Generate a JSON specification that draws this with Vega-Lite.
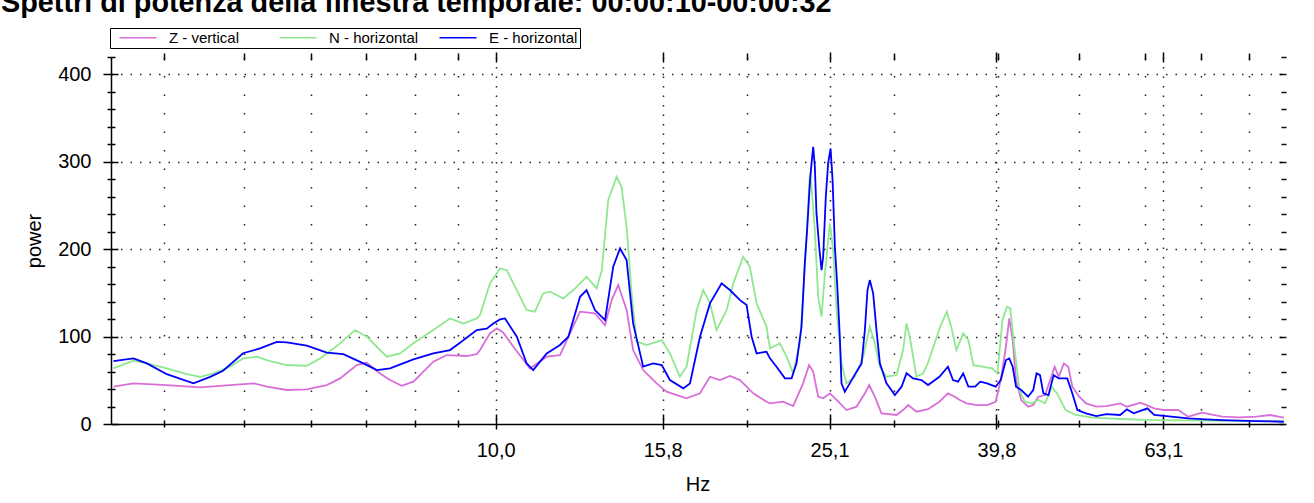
{
"$schema": "https://vega.github.io/schema/vega-lite/v6.json",
"width": 1173, "height": 367,
"autosize": {"type": "none"},
"padding": {"left": 111, "top": 57, "right": 30, "bottom": 79},
"background": "white",
"config": {"font": "Liberation Sans", "view": {"stroke": null}},
"title": {"text": "Spettri di potenza della finestra temporale: 00:00:10-00:00:32", "fontSize": 28.8, "fontWeight": "bold", "font": "Liberation Sans", "color": "#000", "anchor": "start", "frame": "group", "dx": -110, "dy": 27, "baseline": "alphabetic", "offset": 14},
"data": {"values": [
{"s":"Z - vertical","f":3.484,"p":42.7},{"s":"Z - vertical","f":3.681,"p":46.5},{"s":"Z - vertical","f":4.036,"p":44.6},{"s":"Z - vertical","f":4.425,"p":42},{"s":"Z - vertical","f":4.806,"p":44.6},{"s":"Z - vertical","f":5.13,"p":46.5},{"s":"Z - vertical","f":5.32,"p":42.7},{"s":"Z - vertical","f":5.62,"p":38.9},{"s":"Z - vertical","f":5.938,"p":39.6},{"s":"Z - vertical","f":6.275,"p":44.6},{"s":"Z - vertical","f":6.509,"p":52.2},{"s":"Z - vertical","f":6.816,"p":67.5},{"s":"Z - vertical","f":7.007,"p":70.1},{"s":"Z - vertical","f":7.268,"p":57.9},{"s":"Z - vertical","f":7.472,"p":50.3},{"s":"Z - vertical","f":7.717,"p":43.8},{"s":"Z - vertical","f":7.968,"p":48.4},{"s":"Z - vertical","f":8.419,"p":71.3},{"s":"Z - vertical","f":8.736,"p":78.9},{"s":"Z - vertical","f":9.231,"p":77.8},{"s":"Z - vertical","f":9.49,"p":80},{"s":"Z - vertical","f":9.576,"p":84.6},{"s":"Z - vertical","f":9.844,"p":103.7},{"s":"Z - vertical","f":10.03,"p":109.4},{"s":"Z - vertical","f":10.2,"p":105},{"s":"Z - vertical","f":10.5,"p":88.4},{"s":"Z - vertical","f":10.99,"p":63.6},{"s":"Z - vertical","f":11.51,"p":77},{"s":"Z - vertical","f":11.94,"p":78.9},{"s":"Z - vertical","f":12.62,"p":128.5},{"s":"Z - vertical","f":13.15,"p":126.6},{"s":"Z - vertical","f":13.52,"p":113.2},{"s":"Z - vertical","f":13.77,"p":141.8},{"s":"Z - vertical","f":14.02,"p":159},{"s":"Z - vertical","f":14.35,"p":130.4},{"s":"Z - vertical","f":14.61,"p":84.6},{"s":"Z - vertical","f":15.02,"p":61.7},{"s":"Z - vertical","f":15.59,"p":46.5},{"s":"Z - vertical","f":16.02,"p":37},{"s":"Z - vertical","f":16.93,"p":29.3},{"s":"Z - vertical","f":17.57,"p":35.1},{"s":"Z - vertical","f":18.06,"p":54.1},{"s":"Z - vertical","f":18.56,"p":50.3},{"s":"Z - vertical","f":19.08,"p":54.9},{"s":"Z - vertical","f":19.62,"p":50.3},{"s":"Z - vertical","f":20.35,"p":35.1},{"s":"Z - vertical","f":21.11,"p":25.5},{"s":"Z - vertical","f":21.31,"p":23.6},{"s":"Z - vertical","f":22.1,"p":25.5},{"s":"Z - vertical","f":22.72,"p":20.6},{"s":"Z - vertical","f":23.35,"p":46.5},{"s":"Z - vertical","f":23.74,"p":67.5},{"s":"Z - vertical","f":24.01,"p":59.9},{"s":"Z - vertical","f":24.34,"p":31.3},{"s":"Z - vertical","f":24.68,"p":29.4},{"s":"Z - vertical","f":25.14,"p":35.1},{"s":"Z - vertical","f":25.61,"p":27.5},{"s":"Z - vertical","f":26.32,"p":16},{"s":"Z - vertical","f":27.06,"p":19.8},{"s":"Z - vertical","f":27.69,"p":35.1},{"s":"Z - vertical","f":28.02,"p":44.6},{"s":"Z - vertical","f":28.46,"p":31.3},{"s":"Z - vertical","f":28.99,"p":12.2},{"s":"Z - vertical","f":30.22,"p":10.3},{"s":"Z - vertical","f":30.77,"p":16},{"s":"Z - vertical","f":31.2,"p":21.7},{"s":"Z - vertical","f":31.93,"p":14.1},{"s":"Z - vertical","f":32.96,"p":17},{"s":"Z - vertical","f":34.01,"p":25.5},{"s":"Z - vertical","f":34.82,"p":35},{"s":"Z - vertical","f":35.47,"p":31.2},{"s":"Z - vertical","f":35.98,"p":27.4},{"s":"Z - vertical","f":36.67,"p":23.6},{"s":"Z - vertical","f":37.71,"p":21.7},{"s":"Z - vertical","f":38.79,"p":21.7},{"s":"Z - vertical","f":39.72,"p":25.5},{"s":"Z - vertical","f":40.28,"p":50.3},{"s":"Z - vertical","f":40.86,"p":88.4},{"s":"Z - vertical","f":41.24,"p":120.8},{"s":"Z - vertical","f":41.63,"p":96},{"s":"Z - vertical","f":42.02,"p":50.3},{"s":"Z - vertical","f":42.62,"p":27.4},{"s":"Z - vertical","f":43.44,"p":19.8},{"s":"Z - vertical","f":44.06,"p":21.7},{"s":"Z - vertical","f":44.68,"p":31.2},{"s":"Z - vertical","f":45.52,"p":33.1},{"s":"Z - vertical","f":46.17,"p":50.3},{"s":"Z - vertical","f":46.74,"p":65.5},{"s":"Z - vertical","f":47.27,"p":54.1},{"s":"Z - vertical","f":47.94,"p":69.4},{"s":"Z - vertical","f":48.53,"p":65.5},{"s":"Z - vertical","f":49.08,"p":42.7},{"s":"Z - vertical","f":50.01,"p":31.2},{"s":"Z - vertical","f":50.97,"p":23.6},{"s":"Z - vertical","f":52.42,"p":19.8},{"s":"Z - vertical","f":53.92,"p":20.5},{"s":"Z - vertical","f":56,"p":23.6},{"s":"Z - vertical","f":57.05,"p":19.8},{"s":"Z - vertical","f":59.25,"p":24.4},{"s":"Z - vertical","f":61.51,"p":17.9},{"s":"Z - vertical","f":63.29,"p":16},{"s":"Z - vertical","f":65.71,"p":16},{"s":"Z - vertical","f":67.58,"p":8.4},{"s":"Z - vertical","f":70.18,"p":12.9},{"s":"Z - vertical","f":74.24,"p":8.4},{"s":"Z - vertical","f":77.83,"p":7.6},{"s":"Z - vertical","f":81.58,"p":8.4},{"s":"Z - vertical","f":84.7,"p":10.3},{"s":"Z - vertical","f":87.96,"p":7.2},
{"s":"N - horizontal","f":3.484,"p":63.6},{"s":"N - horizontal","f":3.681,"p":72.4},{"s":"N - horizontal","f":3.82,"p":69.4},{"s":"N - horizontal","f":4.036,"p":63.6},{"s":"N - horizontal","f":4.265,"p":57.2},{"s":"N - horizontal","f":4.425,"p":54},{"s":"N - horizontal","f":4.59,"p":57.9},{"s":"N - horizontal","f":4.806,"p":65.6},{"s":"N - horizontal","f":4.981,"p":75},{"s":"N - horizontal","f":5.173,"p":77},{"s":"N - horizontal","f":5.367,"p":72},{"s":"N - horizontal","f":5.62,"p":67.5},{"s":"N - horizontal","f":5.938,"p":66.7},{"s":"N - horizontal","f":6.16,"p":75},{"s":"N - horizontal","f":6.509,"p":92.3},{"s":"N - horizontal","f":6.784,"p":107.5},{"s":"N - horizontal","f":7.007,"p":99.9},{"s":"N - horizontal","f":7.203,"p":88.4},{"s":"N - horizontal","f":7.404,"p":77},{"s":"N - horizontal","f":7.68,"p":80.8},{"s":"N - horizontal","f":7.968,"p":92.3},{"s":"N - horizontal","f":8.419,"p":107.5},{"s":"N - horizontal","f":8.816,"p":120.8},{"s":"N - horizontal","f":9.145,"p":115},{"s":"N - horizontal","f":9.49,"p":120.8},{"s":"N - horizontal","f":9.576,"p":124.7},{"s":"N - horizontal","f":9.844,"p":161},{"s":"N - horizontal","f":10.12,"p":178},{"s":"N - horizontal","f":10.31,"p":176},{"s":"N - horizontal","f":10.6,"p":153.3},{"s":"N - horizontal","f":10.89,"p":130.4},{"s":"N - horizontal","f":11.14,"p":128.5},{"s":"N - horizontal","f":11.4,"p":149.4},{"s":"N - horizontal","f":11.62,"p":151.4},{"s":"N - horizontal","f":12.05,"p":143.7},{"s":"N - horizontal","f":12.39,"p":153.3},{"s":"N - horizontal","f":12.85,"p":168.5},{"s":"N - horizontal","f":13.21,"p":155.2},{"s":"N - horizontal","f":13.4,"p":176},{"s":"N - horizontal","f":13.64,"p":256.2},{"s":"N - horizontal","f":13.96,"p":282.9},{"s":"N - horizontal","f":14.15,"p":271.5},{"s":"N - horizontal","f":14.35,"p":225.7},{"s":"N - horizontal","f":14.55,"p":149.4},{"s":"N - horizontal","f":14.75,"p":94.2},{"s":"N - horizontal","f":15.17,"p":90.4},{"s":"N - horizontal","f":15.81,"p":96.1},{"s":"N - horizontal","f":16.17,"p":80.8},{"s":"N - horizontal","f":16.62,"p":54.1},{"s":"N - horizontal","f":16.93,"p":65.6},{"s":"N - horizontal","f":17.41,"p":130.4},{"s":"N - horizontal","f":17.73,"p":153.3},{"s":"N - horizontal","f":18.06,"p":138},{"s":"N - horizontal","f":18.39,"p":107.5},{"s":"N - horizontal","f":18.91,"p":130.4},{"s":"N - horizontal","f":19.26,"p":160.9},{"s":"N - horizontal","f":19.79,"p":191.4},{"s":"N - horizontal","f":20.16,"p":180},{"s":"N - horizontal","f":20.54,"p":138},{"s":"N - horizontal","f":21.11,"p":111.3},{"s":"N - horizontal","f":21.31,"p":86.6},{"s":"N - horizontal","f":21.9,"p":92.3},{"s":"N - horizontal","f":22.31,"p":77},{"s":"N - horizontal","f":22.72,"p":58},{"s":"N - horizontal","f":23.14,"p":92.3},{"s":"N - horizontal","f":23.35,"p":145.6},{"s":"N - horizontal","f":23.57,"p":214.3},{"s":"N - horizontal","f":23.79,"p":286.7},{"s":"N - horizontal","f":23.9,"p":271.5},{"s":"N - horizontal","f":24.12,"p":221.9},{"s":"N - horizontal","f":24.34,"p":145.6},{"s":"N - horizontal","f":24.57,"p":122.8},{"s":"N - horizontal","f":24.8,"p":172.3},{"s":"N - horizontal","f":25.14,"p":229.5},{"s":"N - horizontal","f":25.37,"p":199},{"s":"N - horizontal","f":25.61,"p":130.4},{"s":"N - horizontal","f":25.96,"p":69.4},{"s":"N - horizontal","f":26.32,"p":46.5},{"s":"N - horizontal","f":26.93,"p":54.1},{"s":"N - horizontal","f":27.56,"p":77},{"s":"N - horizontal","f":28.07,"p":111.3},{"s":"N - horizontal","f":28.46,"p":92.3},{"s":"N - horizontal","f":28.86,"p":65.6},{"s":"N - horizontal","f":29.39,"p":54.1},{"s":"N - horizontal","f":30.22,"p":56},{"s":"N - horizontal","f":30.77,"p":84.6},{"s":"N - horizontal","f":31.06,"p":115.1},{"s":"N - horizontal","f":31.34,"p":99.9},{"s":"N - horizontal","f":31.93,"p":54.1},{"s":"N - horizontal","f":32.51,"p":58},{"s":"N - horizontal","f":32.96,"p":70},{"s":"N - horizontal","f":34.08,"p":111.3},{"s":"N - horizontal","f":34.71,"p":128.4},{"s":"N - horizontal","f":35.14,"p":111.3},{"s":"N - horizontal","f":35.64,"p":84.6},{"s":"N - horizontal","f":36.32,"p":103.7},{"s":"N - horizontal","f":36.84,"p":96},{"s":"N - horizontal","f":37.36,"p":67.4},{"s":"N - horizontal","f":38.43,"p":65.5},{"s":"N - horizontal","f":39.34,"p":63.6},{"s":"N - horizontal","f":39.91,"p":57.9},{"s":"N - horizontal","f":40.47,"p":118.9},{"s":"N - horizontal","f":40.97,"p":134.2},{"s":"N - horizontal","f":41.35,"p":132.3},{"s":"N - horizontal","f":41.82,"p":88.4},{"s":"N - horizontal","f":42.42,"p":38.9},{"s":"N - horizontal","f":43.03,"p":25.5},{"s":"N - horizontal","f":43.85,"p":23.6},{"s":"N - horizontal","f":44.68,"p":27.4},{"s":"N - horizontal","f":45.52,"p":23.6},{"s":"N - horizontal","f":46.38,"p":42.7},{"s":"N - horizontal","f":47.05,"p":35},{"s":"N - horizontal","f":48.17,"p":16},{"s":"N - horizontal","f":49.54,"p":10.3},{"s":"N - horizontal","f":51.93,"p":7.2},{"s":"N - horizontal","f":56,"p":5.7},{"s":"N - horizontal","f":61.51,"p":4.5},{"s":"N - horizontal","f":70.84,"p":3.8},{"s":"N - horizontal","f":81.58,"p":3.4},{"s":"N - horizontal","f":87.96,"p":3.4},
{"s":"E - horizontal","f":3.484,"p":72},{"s":"E - horizontal","f":3.681,"p":75},{"s":"E - horizontal","f":3.82,"p":69.4},{"s":"E - horizontal","f":4.036,"p":57},{"s":"E - horizontal","f":4.344,"p":46.5},{"s":"E - horizontal","f":4.549,"p":54},{"s":"E - horizontal","f":4.714,"p":61},{"s":"E - horizontal","f":4.981,"p":81},{"s":"E - horizontal","f":5.22,"p":86.5},{"s":"E - horizontal","f":5.467,"p":94},{"s":"E - horizontal","f":5.62,"p":93.4},{"s":"E - horizontal","f":5.938,"p":89.6},{"s":"E - horizontal","f":6.275,"p":81.6},{"s":"E - horizontal","f":6.569,"p":80},{"s":"E - horizontal","f":6.941,"p":69.4},{"s":"E - horizontal","f":7.203,"p":61.7},{"s":"E - horizontal","f":7.472,"p":63.6},{"s":"E - horizontal","f":7.968,"p":74},{"s":"E - horizontal","f":8.419,"p":80.8},{"s":"E - horizontal","f":8.816,"p":84.6},{"s":"E - horizontal","f":9.062,"p":93},{"s":"E - horizontal","f":9.49,"p":107.5},{"s":"E - horizontal","f":9.755,"p":109},{"s":"E - horizontal","f":9.934,"p":115},{"s":"E - horizontal","f":10.12,"p":119.7},{"s":"E - horizontal","f":10.26,"p":120.8},{"s":"E - horizontal","f":10.6,"p":99.9},{"s":"E - horizontal","f":10.89,"p":69.4},{"s":"E - horizontal","f":11.09,"p":61.7},{"s":"E - horizontal","f":11.51,"p":80.8},{"s":"E - horizontal","f":11.94,"p":90.4},{"s":"E - horizontal","f":12.22,"p":99.9},{"s":"E - horizontal","f":12.62,"p":145.6},{"s":"E - horizontal","f":12.85,"p":153.3},{"s":"E - horizontal","f":13.15,"p":130.4},{"s":"E - horizontal","f":13.52,"p":118.9},{"s":"E - horizontal","f":13.83,"p":180},{"s":"E - horizontal","f":14.09,"p":200.9},{"s":"E - horizontal","f":14.35,"p":187.6},{"s":"E - horizontal","f":14.61,"p":115.1},{"s":"E - horizontal","f":15.02,"p":65.6},{"s":"E - horizontal","f":15.44,"p":69.4},{"s":"E - horizontal","f":15.81,"p":67.5},{"s":"E - horizontal","f":16.17,"p":50.3},{"s":"E - horizontal","f":16.78,"p":40.8},{"s":"E - horizontal","f":17.09,"p":46.5},{"s":"E - horizontal","f":17.57,"p":99.9},{"s":"E - horizontal","f":18.06,"p":138},{"s":"E - horizontal","f":18.65,"p":160.9},{"s":"E - horizontal","f":19.08,"p":153.3},{"s":"E - horizontal","f":19.62,"p":141.8},{"s":"E - horizontal","f":19.98,"p":136.1},{"s":"E - horizontal","f":20.26,"p":99.9},{"s":"E - horizontal","f":20.54,"p":80.8},{"s":"E - horizontal","f":21.11,"p":82.7},{"s":"E - horizontal","f":21.31,"p":75.1},{"s":"E - horizontal","f":21.7,"p":65.6},{"s":"E - horizontal","f":22.21,"p":52.2},{"s":"E - horizontal","f":22.62,"p":52.2},{"s":"E - horizontal","f":22.93,"p":69.4},{"s":"E - horizontal","f":23.25,"p":111.3},{"s":"E - horizontal","f":23.46,"p":183.8},{"s":"E - horizontal","f":23.61,"p":221.9},{"s":"E - horizontal","f":23.79,"p":275.3},{"s":"E - horizontal","f":23.9,"p":298.2},{"s":"E - horizontal","f":24.01,"p":317.2},{"s":"E - horizontal","f":24.12,"p":294.4},{"s":"E - horizontal","f":24.23,"p":241},{"s":"E - horizontal","f":24.41,"p":202.8},{"s":"E - horizontal","f":24.57,"p":176.2},{"s":"E - horizontal","f":24.68,"p":191.4},{"s":"E - horizontal","f":24.86,"p":260},{"s":"E - horizontal","f":25.02,"p":298.2},{"s":"E - horizontal","f":25.19,"p":315.3},{"s":"E - horizontal","f":25.33,"p":279.1},{"s":"E - horizontal","f":25.49,"p":202.8},{"s":"E - horizontal","f":25.65,"p":160.9},{"s":"E - horizontal","f":25.84,"p":99.9},{"s":"E - horizontal","f":25.96,"p":46.5},{"s":"E - horizontal","f":26.2,"p":37},{"s":"E - horizontal","f":26.56,"p":46.5},{"s":"E - horizontal","f":27.06,"p":59.9},{"s":"E - horizontal","f":27.44,"p":69.4},{"s":"E - horizontal","f":27.69,"p":107.5},{"s":"E - horizontal","f":27.89,"p":153.3},{"s":"E - horizontal","f":28.07,"p":164.7},{"s":"E - horizontal","f":28.33,"p":149.5},{"s":"E - horizontal","f":28.59,"p":107.5},{"s":"E - horizontal","f":28.86,"p":69.4},{"s":"E - horizontal","f":29.39,"p":46.5},{"s":"E - horizontal","f":30.08,"p":33.2},{"s":"E - horizontal","f":30.64,"p":42.7},{"s":"E - horizontal","f":31.06,"p":58},{"s":"E - horizontal","f":31.63,"p":52.2},{"s":"E - horizontal","f":32.37,"p":50.3},{"s":"E - horizontal","f":32.96,"p":44.6},{"s":"E - horizontal","f":34.01,"p":54.1},{"s":"E - horizontal","f":34.82,"p":65.5},{"s":"E - horizontal","f":35.31,"p":50.3},{"s":"E - horizontal","f":35.81,"p":48.4},{"s":"E - horizontal","f":36.32,"p":57.9},{"s":"E - horizontal","f":36.84,"p":42.7},{"s":"E - horizontal","f":37.54,"p":42.7},{"s":"E - horizontal","f":38.07,"p":48.4},{"s":"E - horizontal","f":38.79,"p":46.5},{"s":"E - horizontal","f":39.72,"p":42.7},{"s":"E - horizontal","f":40.28,"p":50.3},{"s":"E - horizontal","f":40.86,"p":73.2},{"s":"E - horizontal","f":41.24,"p":75.1},{"s":"E - horizontal","f":41.63,"p":65.5},{"s":"E - horizontal","f":42.02,"p":42.7},{"s":"E - horizontal","f":42.62,"p":38.9},{"s":"E - horizontal","f":43.44,"p":31.2},{"s":"E - horizontal","f":44.06,"p":38.9},{"s":"E - horizontal","f":44.47,"p":57.9},{"s":"E - horizontal","f":44.89,"p":56},{"s":"E - horizontal","f":45.31,"p":35},{"s":"E - horizontal","f":45.95,"p":33.1},{"s":"E - horizontal","f":46.61,"p":56},{"s":"E - horizontal","f":47.27,"p":52.2},{"s":"E - horizontal","f":48.39,"p":52.2},{"s":"E - horizontal","f":49.08,"p":35},{"s":"E - horizontal","f":49.77,"p":16},{"s":"E - horizontal","f":50.97,"p":12.2},{"s":"E - horizontal","f":52.42,"p":9.1},{"s":"E - horizontal","f":53.92,"p":11.4},{"s":"E - horizontal","f":56,"p":10.3},{"s":"E - horizontal","f":57.05,"p":16.7},{"s":"E - horizontal","f":58.13,"p":12.2},{"s":"E - horizontal","f":60.37,"p":17.9},{"s":"E - horizontal","f":61.51,"p":10.3},{"s":"E - horizontal","f":64.49,"p":8.4},{"s":"E - horizontal","f":67.58,"p":6.4},{"s":"E - horizontal","f":70.84,"p":5.3},{"s":"E - horizontal","f":74.24,"p":4.5},{"s":"E - horizontal","f":81.58,"p":3.4},{"s":"E - horizontal","f":87.96,"p":2.6}
]},
"layer": [
{"mark": {"type": "line", "strokeWidth": 1.8, "clip": true},
 "encoding": {
  "x": {"field": "f", "type": "quantitative", "scale": {"type": "log", "domain": [3.46, 88], "nice": false},
   "axis": {"orient": "bottom", "values": [4,5,6,7,8,9,10,15.849,20,25.119,30,39.811,40,50,60,63.096,70,80],
    "labelExpr": "datum.value == 10 || datum.value != floor(datum.value) ? replace(format(datum.value, '.1f'), '.', ',') : ''",
    "ticks": false, "labelPadding": 16, "labelFontSize": 20, "labelColor": "#000", "labelFlush": false, "labelOverlap": false,
    "grid": true, "gridColor": "#222", "gridWidth": 1.5,
    "gridDash": {"condition": {"test": "datum.value == 10 || datum.value != floor(datum.value)", "value": [1.5, 8]}, "value": [1.5, 17]},
    "domain": true, "domainColor": "#000", "domainWidth": 1.5,
    "title": "Hz", "titleFontSize": 20, "titleFontWeight": "normal", "titleColor": "#000", "titlePadding": 14}},
  "y": {"field": "p", "type": "quantitative", "scale": {"domain": [0, 420], "nice": false},
   "axis": {"orient": "left", "values": [0,20,40,60,80,100,120,140,160,180,200,220,240,260,280,300,320,340,360,380,400,420],
    "labelExpr": "datum.value % 100 == 0 ? datum.label : ''",
    "ticks": false, "labelPadding": 20, "labelFontSize": 20, "labelColor": "#000", "labelOverlap": false, "labelFlush": false,
    "grid": true, "gridColor": "#222", "gridWidth": 1.5, "gridDash": [1.5, 8],
    "gridOpacity": {"condition": {"test": "datum.value % 100 == 0 && datum.value > 0", "value": 1}, "value": 0},
    "domain": true, "domainColor": "#000", "domainWidth": 1.5,
    "title": "power", "titleFontSize": 20, "titleFontWeight": "normal", "titleColor": "#000", "titlePadding": 13}},
  "color": {"field": "s", "type": "nominal",
   "scale": {"domain": ["Z - vertical", "N - horizontal", "E - horizontal"], "range": ["#D86FD8", "#8FE88F", "#0000FF"]},
   "legend": {"title": null, "orient": "none", "legendX": -1, "legendY": -29, "direction": "horizontal", "columns": 3, "gridAlign": "all",
    "symbolType": "M0,0H8", "symbolSize": 85.5, "symbolStrokeWidth": 1.5, "labelOffset": 42, "columnPadding": 13,
    "labelFontSize": 15, "labelColor": "#000", "strokeColor": "#000", "padding": 2}}
 }},
{"mark": {"type": "point", "opacity": 0},
 "transform": [{"aggregate": [{"op": "min", "field": "f", "as": "f"}, {"op": "max", "field": "p", "as": "p"}]}],
 "encoding": {
  "x": {"field": "f", "type": "quantitative", "scale": {"type": "log", "domain": [3.46, 88], "nice": false},
   "axis": {"orient": "bottom", "values": [4,5,6,7,8,9,10,15.849,20,25.119,30,39.811,40,50,60,63.096,70,80], "labels": false, "grid": false, "domain": false, "title": null,
    "ticks": true, "tickColor": "#000", "tickWidth": 1.5,
    "tickSize": {"condition": {"test": "datum.value == 10 || datum.value != floor(datum.value)", "value": 5}, "value": 3}}},
  "y": {"field": "p", "type": "quantitative", "scale": {"domain": [0, 420], "nice": false},
   "axis": {"orient": "left", "values": [0,20,40,60,80,100,120,140,160,180,200,220,240,260,280,300,320,340,360,380,400,420], "labels": false, "grid": false, "domain": false, "title": null,
    "ticks": true, "tickColor": "#000", "tickWidth": 1.5,
    "tickSize": {"condition": {"test": "datum.value % 100 == 0", "value": 8}, "value": 4}}}
 }},
{"mark": {"type": "point", "opacity": 0},
 "transform": [{"aggregate": [{"op": "min", "field": "f", "as": "f"}, {"op": "max", "field": "p", "as": "p"}]}],
 "encoding": {
  "x": {"field": "f", "type": "quantitative", "scale": {"type": "log", "domain": [3.46, 88], "nice": false},
   "axis": {"orient": "bottom", "values": [4,5,6,7,8,9,10,15.849,20,25.119,30,39.811,40,50,60,63.096,70,80], "labels": false, "grid": false, "domain": false, "title": null,
    "ticks": true, "tickColor": "#000", "tickWidth": 1.5,
    "tickSize": {"condition": {"test": "datum.value == 10 || datum.value != floor(datum.value)", "value": -10}, "value": -4}}},
  "y": {"field": "p", "type": "quantitative", "scale": {"domain": [0, 420], "nice": false},
   "axis": {"orient": "left", "values": [0,20,40,60,80,100,120,140,160,180,200,220,240,260,280,300,320,340,360,380,400,420], "labels": false, "grid": false, "domain": false, "title": null,
    "ticks": true, "tickColor": "#000", "tickWidth": 1.5,
    "tickSize": {"condition": {"test": "datum.value % 100 == 0", "value": -7}, "value": -4}}}
 }},
{"mark": {"type": "point", "opacity": 0},
 "transform": [{"aggregate": [{"op": "min", "field": "f", "as": "f"}, {"op": "max", "field": "p", "as": "p"}]}],
 "encoding": {
  "x": {"field": "f", "type": "quantitative", "scale": {"type": "log", "domain": [3.46, 88], "nice": false},
   "axis": {"orient": "top", "values": [4,5,6,7,8,9,10,15.849,20,25.119,30,39.811,40,50,60,63.096,70,80], "labels": false, "grid": false, "domain": false, "title": null,
    "ticks": true, "tickColor": "#000", "tickWidth": 1.5,
    "tickSize": {"condition": {"test": "datum.value == 10 || datum.value != floor(datum.value)", "value": 5}, "value": 4}}},
  "y": {"field": "p", "type": "quantitative", "scale": {"domain": [0, 420], "nice": false},
   "axis": {"orient": "right", "values": [0,20,40,60,80,100,120,140,160,180,200,220,240,260,280,300,320,340,360,380,400,420], "labels": false, "grid": false, "domain": false, "title": null,
    "ticks": true, "tickColor": "#000", "tickWidth": 1.5, "tickSize": 2}}
 }},
{"mark": {"type": "point", "opacity": 0},
 "transform": [{"aggregate": [{"op": "min", "field": "f", "as": "f"}, {"op": "max", "field": "p", "as": "p"}]}],
 "encoding": {
  "x": {"field": "f", "type": "quantitative", "scale": {"type": "log", "domain": [3.46, 88], "nice": false},
   "axis": {"orient": "top", "values": [4,5,6,7,8,9,10,15.849,20,25.119,30,39.811,40,50,60,63.096,70,80], "labels": false, "grid": false, "domain": false, "title": null,
    "ticks": true, "tickColor": "#000", "tickWidth": 1.5,
    "tickSize": {"condition": {"test": "datum.value == 10 || datum.value != floor(datum.value)", "value": -5}, "value": -3}}},
  "y": {"field": "p", "type": "quantitative", "scale": {"domain": [0, 420], "nice": false},
   "axis": {"orient": "right", "values": [0,20,40,60,80,100,120,140,160,180,200,220,240,260,280,300,320,340,360,380,400,420], "labels": false, "grid": false, "domain": false, "title": null,
    "ticks": true, "tickColor": "#000", "tickWidth": 1.5,
    "tickSize": {"condition": {"test": "datum.value % 100 == 0", "value": -5}, "value": -3}}}
 }}
],
"resolve": {"axis": {"x": "independent", "y": "independent"}}
}
